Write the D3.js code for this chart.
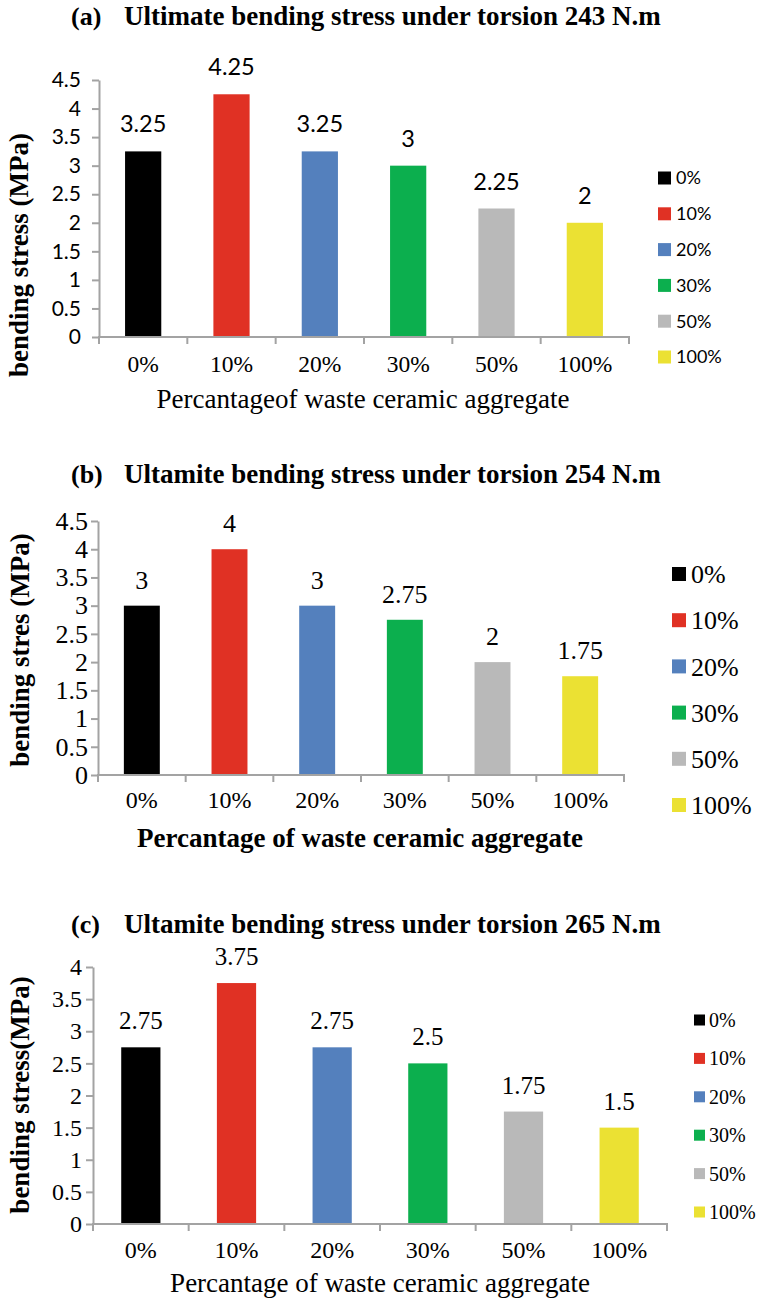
<!DOCTYPE html>
<html>
<head>
<meta charset="utf-8">
<script src="https://cdn.jsdelivr.net/npm/d3@7"></script>
<style>
  html, body { margin: 0; padding: 0; background: #fff; }
  svg { display: block; }
</style>
</head>
<body>
<script>
// Bending stress (MPa) per replacement level of waste ceramic aggregate
const categories = ["0%", "10%", "20%", "30%", "50%", "100%"];
const stress243 = [3.25, 4.25, 3.25, 3, 2.25, 2];
const stress254 = [3, 4, 3, 2.75, 2, 1.75];
const stress265 = [2.75, 3.75, 2.75, 2.5, 1.75, 1.5];
const ticks243 = [0, 0.5, 1, 1.5, 2, 2.5, 3, 3.5, 4, 4.5];
const ticks254 = [0, 0.5, 1, 1.5, 2, 2.5, 3, 3.5, 4, 4.5];
const ticks265 = [0, 0.5, 1, 1.5, 2, 2.5, 3, 3.5, 4];
const panelTags = ["(a)", "(b)", "(c)"];
const panelTitles = [
  "Ultimate bending stress under torsion 243 N.m",
  "Ultamite bending stress under torsion 254 N.m",
  "Ultamite bending stress under torsion 265 N.m"
];
const yTitles = ["bending stress (MPa)", "bending stres (MPa)", "bending stress(MPa)"];
const xTitles = [
  "Percantageof waste ceramic aggregate",
  "Percantage of waste ceramic aggregate",
  "Percantage of waste ceramic aggregate"
];

const barColors = ["#000000", "#E03124", "#5480BD", "#0CAF4E", "#B9B9B9", "#EBE133"];
const SERIF = "'Liberation Serif', 'Times New Roman', serif";
const SANS = "Lato, 'Open Sans', sans-serif";
const AXIS = "#A3A3A3";

const W = 763, H = 1305;
const svg = d3.select("body").append("svg").attr("width", W).attr("height", H);

const panels = [
  {
    values: stress243, ticks: ticks243, yMax: 4.5,
    left: 99, right: 629, base: 337, top: 80,
    titleY: 25, yTitleX: 28, yTitleY: 255, yTitleSize: 27,
    xTitleY: 408, xTitleX: 363, xTitleWeight: "normal",
    xLabelY: 372, xLabelFont: SERIF, xLabelSize: 23.5,
    tickFont: SANS, tickSize: 21, tickGap: 11,
    valFont: SANS, valSize: 23.5, valGap: 19,
    legX: 658, legY: 178, legStep: 35.8, legBox: 13, legFont: SANS, legSize: 18, legTextX: 676
  },
  {
    values: stress254, ticks: ticks254, yMax: 4.5,
    left: 98, right: 624, base: 775, top: 521,
    titleY: 483, yTitleX: 29, yTitleY: 650, yTitleSize: 27,
    xTitleY: 847, xTitleX: 360, xTitleWeight: "bold",
    xLabelY: 808, xLabelFont: SERIF, xLabelSize: 24,
    tickFont: SERIF, tickSize: 26, tickGap: 3,
    valFont: SERIF, valSize: 26, valGap: 17,
    legX: 672, legY: 574, legStep: 46.2, legBox: 14, legFont: SERIF, legSize: 26, legTextX: 691
  },
  {
    values: stress265, ticks: ticks265, yMax: 4,
    left: 93, right: 667, base: 1224, top: 967,
    titleY: 933, yTitleX: 29, yTitleY: 1095, yTitleSize: 27,
    xTitleY: 1292, xTitleX: 380, xTitleWeight: "normal",
    xLabelY: 1258, xLabelFont: SERIF, xLabelSize: 24,
    tickFont: SERIF, tickSize: 24, tickGap: 4,
    valFont: SERIF, valSize: 25, valGap: 18,
    legX: 694, legY: 1020, legStep: 38.4, legBox: 11, legFont: SERIF, legSize: 20, legTextX: 709
  }
];

panels.forEach((p, i) => {
  const g = svg.append("g");

  const x = d3.scaleBand()
    .domain(categories)
    .range([p.left, p.right])
    .paddingInner(0.59)
    .paddingOuter(0.295);
  const y = d3.scaleLinear().domain([0, p.yMax]).range([p.base, p.top]);

  // title
  g.append("text")
    .attr("x", 71).attr("y", p.titleY)
    .attr("font-family", SERIF).attr("font-weight", "bold").attr("font-size", 26)
    .text(panelTags[i]);
  g.append("text")
    .attr("x", 124).attr("y", p.titleY)
    .attr("font-family", SERIF).attr("font-weight", "bold").attr("font-size", 27)
    .text(panelTitles[i]);

  // bars
  g.selectAll("rect.bar")
    .data(p.values)
    .join("rect")
    .attr("class", "bar")
    .attr("x", (d, j) => x(categories[j]))
    .attr("width", x.bandwidth())
    .attr("y", d => y(d))
    .attr("height", d => y(0) - y(d))
    .attr("fill", (d, j) => barColors[j]);

  // value labels
  g.selectAll("text.val")
    .data(p.values)
    .join("text")
    .attr("class", "val")
    .attr("x", (d, j) => x(categories[j]) + x.bandwidth() / 2)
    .attr("y", d => y(d) - p.valGap)
    .attr("text-anchor", "middle")
    .attr("font-family", p.valFont).attr("font-size", p.valSize)
    .attr("fill", "#000")
    .text(d => d);

  // y axis
  const yAxis = g.append("g")
    .attr("transform", `translate(${p.left},0)`)
    .call(d3.axisLeft(y).tickValues(p.ticks).tickSize(7).tickSizeOuter(0).tickPadding(p.tickGap).tickFormat(d3.format("~g")));
  yAxis.select(".domain").attr("stroke", AXIS).attr("stroke-width", 2);
  yAxis.selectAll(".tick line").attr("stroke", AXIS).attr("stroke-width", 2);
  yAxis.selectAll(".tick text")
    .attr("font-family", p.tickFont).attr("font-size", p.tickSize).attr("fill", "#000");

  // x axis: baseline with separators between categories
  const step = x.step();
  const bounds = d3.range(categories.length + 1).map(k => p.left + k * step);
  g.append("line")
    .attr("x1", p.left - 1).attr("x2", p.right + 1)
    .attr("y1", y(0)).attr("y2", y(0))
    .attr("stroke", AXIS).attr("stroke-width", 2);
  g.selectAll("line.sep")
    .data(bounds)
    .join("line")
    .attr("class", "sep")
    .attr("x1", d => d).attr("x2", d => d)
    .attr("y1", y(0)).attr("y2", y(0) + 7)
    .attr("stroke", AXIS).attr("stroke-width", 2);
  g.selectAll("text.cat")
    .data(categories)
    .join("text")
    .attr("class", "cat")
    .attr("x", d => x(d) + x.bandwidth() / 2)
    .attr("y", p.xLabelY)
    .attr("text-anchor", "middle")
    .attr("font-family", p.xLabelFont).attr("font-size", p.xLabelSize)
    .text(d => d);

  // axis titles
  g.append("text")
    .attr("transform", `translate(${p.yTitleX},${p.yTitleY}) rotate(-90)`)
    .attr("text-anchor", "middle")
    .attr("font-family", SERIF).attr("font-weight", "bold").attr("font-size", p.yTitleSize)
    .text(yTitles[i]);
  g.append("text")
    .attr("x", p.xTitleX).attr("y", p.xTitleY)
    .attr("text-anchor", "middle")
    .attr("font-family", SERIF).attr("font-weight", p.xTitleWeight).attr("font-size", 27)
    .text(xTitles[i]);

  // legend
  const leg = g.selectAll("g.leg")
    .data(categories)
    .join("g")
    .attr("class", "leg")
    .attr("transform", (d, j) => `translate(0,${p.legY + j * p.legStep})`);
  leg.append("rect")
    .attr("x", p.legX).attr("y", -p.legBox / 2)
    .attr("width", p.legBox).attr("height", p.legBox)
    .attr("fill", (d, j) => barColors[j]);
  leg.append("text")
    .attr("x", p.legTextX).attr("y", 0).attr("dy", "0.35em")
    .attr("font-family", p.legFont).attr("font-size", p.legSize)
    .text(d => d);
});
</script>
</body>
</html>
